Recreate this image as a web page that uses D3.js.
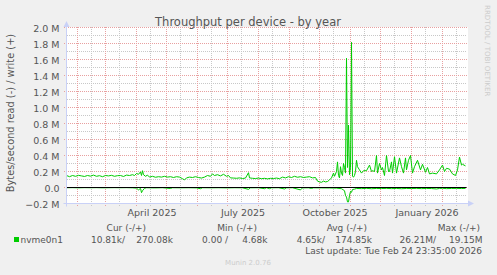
<!DOCTYPE html>
<html>
<head>
<meta charset="utf-8">
<script src="https://cdn.jsdelivr.net/npm/d3@7"></script>
<style>
  body { margin: 0; background: #f0f0f0; }
  svg { display: block; font-family: "DejaVu Sans", sans-serif; }
</style>
</head>
<body>
<div id="chart"></div>
<script>
// Munin "Throughput per device - by year", one sample per day.
// day 0 = start of the 400 day window
var startTime = new Date(Date.UTC(2025, 0, 20, 23, 35)),
  endTime = new Date(Date.UTC(2026, 1, 24, 23, 35));

// write (+), kB/s  [day, value]
var writeSeries = [
  [0,150],[3,135],[6,150],[9,140],[12,152],[15,145],[18,138],[21,150],[24,142],[27,155],
  [30,140],[33,148],[36,135],[39,150],[42,145],[45,152],[48,140],[51,148],[54,150],[57,138],
  [60,155],[63,150],[66,160],[68,150],[70,175],[72,165],[74,195],[75,150],[76,210],[77,160],
  [79,140],[81,155],[83,130],[86,140],[89,128],[92,135],[95,130],[98,140],[101,130],[104,135],
  [107,125],[110,135],[113,130],[116,110],[118,95],[120,120],[123,130],[126,125],[129,135],[132,125],
  [135,118],[138,130],[141,150],[144,140],[146,170],[148,150],[151,160],[154,145],[157,165],[160,140],
  [162,150],[164,120],[167,118],[170,115],[173,120],[176,112],[179,118],[182,185],[183,120],[186,115],
  [189,112],[192,118],[195,110],[198,115],[201,108],[204,115],[207,112],[210,118],[213,110],[216,130],
  [219,120],[222,135],[225,125],[228,140],[231,128],[234,135],[237,125],[240,130],[243,135],[246,120],
  [249,125],[251,80],[253,70],[255,65],[257,80],[259,70],[261,75],[263,95],[265,120],[267,180],
  [268,140],[270,200],[271,320],[272,150],[273,120],[274,260],[275,180],[276,150],[277,300],[278,250],
  [279,180],[280,1615],[281,250],[282,780],[283,160],[284,250],[285,1815],[286,140],[287,130],[288,150],
  [289,200],[290,340],[291,260],[293,220],[295,180],[297,210],[300,210],[303,280],[305,200],[306,210],
  [308,200],[310,400],[311,180],[313,300],[315,220],[316,250],[318,150],[320,400],[322,200],[323,200],
  [325,320],[326,180],[328,385],[330,180],[333,370],[335,260],[337,180],[339,370],[340,220],[342,340],
  [344,400],[346,180],[348,260],[351,340],[354,220],[356,290],[359,190],[361,250],[363,170],[366,180],
  [370,170],[373,220],[376,280],[378,200],[380,240],[383,230],[386,170],[389,150],[391,220],[393,380],
  [395,280],[396,290],[399,270]
];

// read (-), kB/s  [day, value]
var readSeries = [
  [0,3],[6,2],[12,4],[18,2],[24,3],[30,2],[36,4],[42,3],[48,2],[54,3],
  [60,2],[66,4],[70,8],[72,30],[74,10],[75,65],[76,40],[78,10],[80,3],[88,5],
  [96,3],[104,12],[106,3],[114,4],[122,3],[130,5],[134,15],[136,3],[144,4],[152,3],
  [160,5],[168,3],[176,4],[182,23],[184,4],[192,3],[198,15],[200,3],[203,15],[205,4],
  [212,3],[218,18],[220,4],[226,3],[234,30],[236,5],[242,4],[245,12],[247,4],[255,5],
  [263,6],[270,8],[275,15],[278,40],[279,100],[280,120],[281,180],[282,180],[283,100],[284,50],
  [285,60],[286,25],[288,20],[290,12],[295,14],[300,11],[305,15],[310,12],[315,13],[320,11],
  [325,14],[330,12],[335,15],[340,12],[345,13],[350,11],[355,14],[360,12],[365,13],[370,18],
  [373,12],[376,10],[380,14],[385,12],[390,11],[395,13],[399,11]
];

var yTicks = [-200000, 0, 200000, 400000, 600000, 800000, 1000000, 1200000, 1400000, 1600000, 1800000, 2000000];
var monthLabels = [new Date(Date.UTC(2025, 3, 16)), new Date(Date.UTC(2025, 6, 16)),
  new Date(Date.UTC(2025, 9, 16)), new Date(Date.UTC(2026, 0, 16))];

var legendHead = ["Cur (-/+)", "Min (-/+)", "Avg (-/+)", "Max (-/+)"];
var legendVals = ["10.81k/", "270.08k", "0.00 /", "4.68k", "4.65k/", "174.85k", "26.21M/", "19.15M"];
var lastUpdate = "Last update: Tue Feb 24 23:35:00 2026";

// colours
var fontColor = "#555555",
  axisColor = "#c9d1f7",
  gridColor = "#c8c8c8",
  mgridColor = "#e8a0a0",
  lineColor = "#00cc00";

var W = 497, H = 275;
var svg = d3.select("#chart").append("svg").attr("width", W).attr("height", H);
svg.append("rect").attr("width", W).attr("height", H).attr("fill", "#f0f0f0");

var x = d3.scaleTime().domain([startTime, endTime]).range([66.5, 466.5]);
var y = d3.scaleLinear().domain([-200000, 2000000]).range([203.5, 27.5]);
var px = function(v) { return Math.round(x(v) - 0.5) + 0.5; };
var dayDate = function(d) { return new Date(+startTime + d * 86400000); };

// canvas
svg.append("rect")
  .attr("x", 66).attr("y", 27)
  .attr("width", 402).attr("height", 177)
  .attr("fill", "#ffffff");

// grid lines, dashes start on whole pixels so the dots stay crisp
var minorY = d3.range(-200000, 2000001, 100000).filter(function(v) { return v % 200000 != 0; });
var majorMonths = d3.utcMonth.range(startTime, endTime);
var minorDays = majorMonths.map(function(m) { return new Date(Date.UTC(m.getUTCFullYear(), m.getUTCMonth(), 15)); })
  .concat([new Date(Date.UTC(2025, 0, 15))])
  .filter(function(d) { return d > startTime && d < endTime; });

var grid = svg.append("g").attr("stroke-dasharray", "1,1").attr("stroke-width", 1);
grid.selectAll(".hmin").data(minorY).enter().append("line")
  .attr("x1", 67).attr("x2", 467)
  .attr("y1", function(d) { return y(d); }).attr("y2", function(d) { return y(d); })
  .attr("stroke", gridColor);
grid.selectAll(".vmin").data(minorDays).enter().append("line")
  .attr("x1", px).attr("x2", px)
  .attr("y1", 27).attr("y2", 206)
  .attr("stroke", gridColor);
grid.selectAll(".hmaj").data(yTicks).enter().append("line")
  .attr("x1", 64).attr("x2", 467)
  .attr("y1", function(d) { return y(d); }).attr("y2", function(d) { return y(d); })
  .attr("stroke", mgridColor);
grid.selectAll(".vmaj").data(majorMonths).enter().append("line")
  .attr("x1", px).attr("x2", px)
  .attr("y1", 27).attr("y2", 207)
  .attr("stroke", mgridColor);

// data lines
var lineW = d3.line()
  .x(function(d) { return x(dayDate(d[0])); })
  .y(function(d) { return y(d[1] * 1000); });
var lineR = d3.line()
  .x(function(d) { return x(dayDate(d[0])); })
  .y(function(d) { return y(-d[1] * 1000); });

svg.append("path").datum(readSeries)
  .attr("d", lineR).attr("fill", "none")
  .attr("stroke", lineColor).attr("stroke-width", 1);
svg.append("path").datum(writeSeries)
  .attr("d", lineW).attr("fill", "none")
  .attr("stroke", lineColor).attr("stroke-width", 1);

// zero rule
svg.append("line")
  .attr("x1", 66.5).attr("x2", 466.5)
  .attr("y1", y(0)).attr("y2", y(0))
  .attr("stroke", "#000000").attr("stroke-width", 1);

// axes lines + arrows
svg.append("line").attr("x1", 63.5).attr("x2", 470).attr("y1", 203.5).attr("y2", 203.5)
  .attr("stroke", axisColor);
svg.append("line").attr("x1", 66.5).attr("x2", 66.5).attr("y1", 206.5).attr("y2", 24)
  .attr("stroke", axisColor);
svg.append("path").attr("d", "M66.5,21 L63.5,27 L69.5,27 Z").attr("fill", axisColor);
svg.append("path").attr("d", "M474,203.5 L468,200.5 L468,206.5 Z").attr("fill", axisColor);

// y tick labels
var yAxis = d3.axisLeft(y).tickValues(yTicks).tickSize(0).tickPadding(7)
  .tickFormat(function(d) { return d == 0 ? "0.0" : d3.format(".1f")(d / 1e6) + " M"; });
var gy = svg.append("g").attr("transform", "translate(66.5,0)").call(yAxis);
gy.select(".domain").remove();
gy.selectAll("text").attr("fill", fontColor).attr("font-size", "9.5px")
  .attr("font-family", "DejaVu Sans").attr("dy", "0.4em");

// x tick labels
var xAxis = d3.axisBottom(x).tickValues(monthLabels).tickSize(0).tickPadding(6)
  .tickFormat(d3.utcFormat("%B %Y"));
var gx = svg.append("g").attr("transform", "translate(0,203.5)").call(xAxis);
gx.select(".domain").remove();
gx.selectAll("text").attr("fill", fontColor).attr("font-size", "9.5px")
  .attr("font-family", "DejaVu Sans");

// title
svg.append("text")
  .attr("x", 248).attr("y", 25.5)
  .attr("text-anchor", "middle")
  .attr("font-size", "11.5px")
  .attr("fill", fontColor)
  .text("Throughput per device - by year");

// vertical label
svg.append("text")
  .attr("transform", "translate(14,113)rotate(-90)")
  .attr("text-anchor", "middle")
  .attr("font-size", "9.8px")
  .attr("fill", fontColor)
  .text("Bytes/second read (-) / write (+)");

// watermark
svg.append("text")
  .attr("transform", "translate(484.5,5)rotate(90)")
  .attr("font-size", "7.1px")
  .attr("fill", "#cccccc")
  .text("RRDTOOL / TOBI OETIKER");

// legend
var headEnds = [146, 257, 367, 480];
svg.append("g").selectAll("text").data(legendHead).enter().append("text")
  .attr("x", function(d, i) { return headEnds[i]; })
  .attr("y", 230.5)
  .attr("text-anchor", "end")
  .attr("font-size", "9px")
  .attr("fill", fontColor)
  .text(function(d) { return d; });

svg.append("rect").attr("x", 14).attr("y", 237).attr("width", 5).attr("height", 5).attr("fill", lineColor);
svg.append("text").attr("x", 20.5).attr("y", 242.5)
  .attr("font-size", "9px").attr("fill", fontColor).text("nvme0n1");

var valEnds = [125, 173, 228, 267.5, 325, 372, 436, 482.5];
svg.append("g").selectAll("text").data(legendVals).enter().append("text")
  .attr("x", function(d, i) { return valEnds[i]; })
  .attr("y", 242.5)
  .attr("text-anchor", "end")
  .attr("font-size", "9px")
  .attr("fill", fontColor)
  .text(function(d) { return d; });

svg.append("text").attr("x", 482).attr("y", 253.5)
  .attr("text-anchor", "end")
  .attr("font-size", "9px").attr("fill", fontColor).text(lastUpdate);

svg.append("text").attr("x", 248).attr("y", 265)
  .attr("text-anchor", "middle")
  .attr("font-size", "7px").attr("fill", "#cccccc").text("Munin 2.0.76");
</script>
</body>
</html>
